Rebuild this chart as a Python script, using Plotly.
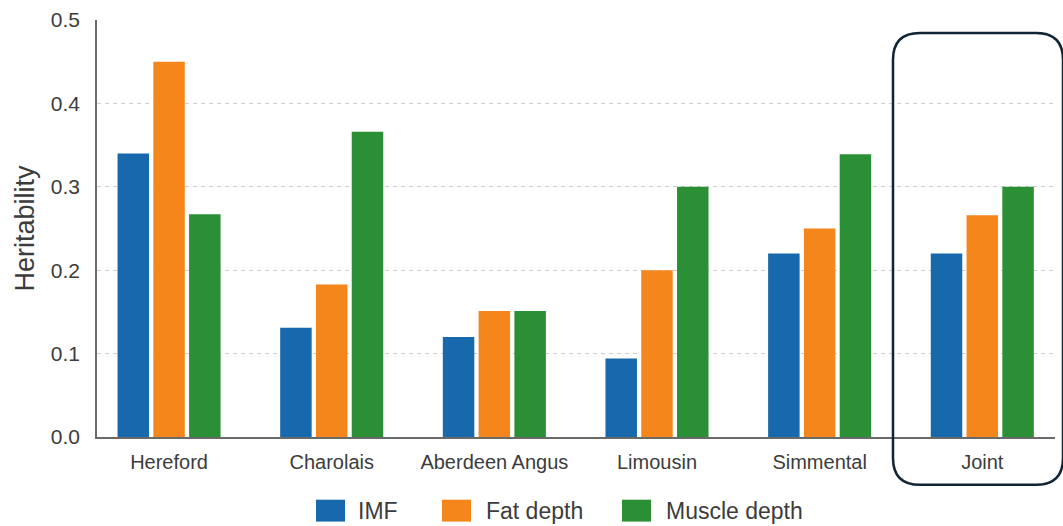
import plotly.graph_objects as go

# ---- data ----
categories = ["Hereford", "Charolais", "Aberdeen Angus", "Limousin", "Simmental", "Joint"]
series_names = ["IMF", "Fat depth", "Muscle depth"]
imf = [0.34, 0.131, 0.12, 0.094, 0.22, 0.22]
fat_depth = [0.45, 0.183, 0.151, 0.20, 0.25, 0.266]
muscle_depth = [0.267, 0.366, 0.151, 0.30, 0.339, 0.30]
y_ticks = [0.0, 0.1, 0.2, 0.3, 0.4, 0.5]
y_tick_labels = ["0.0", "0.1", "0.2", "0.3", "0.4", "0.5"]

colors = ["#1769ab", "#f5861c", "#2b8f35"]
values = [imf, fat_depth, muscle_depth]

W, H = 1063, 526
ML, MR, MT, MB = 97, 8, 18, 89
PW = W - ML - MR
PH = H - MT - MB

def px(x):
    return (x - ML) / PW

def py(y):
    return (H - MB - y) / PH

FONT = "Liberation Sans, Arial, sans-serif"
TXT = "#3c3c3c"

fig = go.Figure()
for name, vals, col in zip(series_names, values, colors):
    fig.add_trace(go.Bar(x=categories, y=vals, name=name, marker=dict(color=col, line=dict(width=0)),
                         showlegend=False))

fig.update_layout(
    width=W, height=H,
    margin=dict(l=ML, r=MR, t=MT, b=MB, pad=0),
    paper_bgcolor="white", plot_bgcolor="white",
    barmode="group", bargap=0.34, bargroupgap=0.12,
    font=dict(family=FONT, color=TXT, size=20),
)
fig.update_xaxes(
    range=[-0.443, 5.447], showgrid=False, showline=True, linecolor="#6a6a6a", linewidth=1.5,
    ticks="", tickfont=dict(size=20, color=TXT), ticklabelstandoff=6,
)
fig.update_yaxes(
    range=[0, 0.5], tickvals=y_ticks, ticktext=y_tick_labels,
    showgrid=True, gridcolor="#cfcfcf", gridwidth=1, griddash="4px,4px",
    showline=True, linecolor="#6a6a6a", linewidth=1.5, zeroline=False,
    ticks="", tickfont=dict(size=21, color=TXT), ticklabelstandoff=11,
    title=dict(text="Heritability", font=dict(size=27, color=TXT), standoff=8),
)

# rounded highlight box around "Joint"
x0, x1, y0, y1, r = 893, 1063, 31, 485, 27
rx = r / PW
ry = r / PH
X0, X1, Y0, Y1 = px(x0), px(x1), py(y1), py(y0)
path = (f"M{X0+rx},{Y1} L{X1-rx},{Y1} Q{X1},{Y1} {X1},{Y1-ry} "
        f"L{X1},{Y0+ry} Q{X1},{Y0} {X1-rx},{Y0} "
        f"L{X0+rx},{Y0} Q{X0},{Y0} {X0},{Y0+ry} "
        f"L{X0},{Y1-ry} Q{X0},{Y1} {X0+rx},{Y1} Z")
fig.add_shape(type="path", path=path, xref="paper", yref="paper",
              line=dict(color="#0f2536", width=2.5), fillcolor="rgba(0,0,0,0)")

# manual legend (large swatches)
sw_x = [316, 442, 622]
txt_x = [356, 484, 664]
sw_w, sw_top, sw_bot = 29, 500, 522
for name, col, sx, tx in zip(series_names, colors, sw_x, txt_x):
    fig.add_shape(type="rect", xref="paper", yref="paper",
                  x0=px(sx), x1=px(sx + sw_w), y0=py(sw_bot), y1=py(sw_top),
                  fillcolor=col, line=dict(width=0))
    fig.add_annotation(text=name, xref="paper", yref="paper", x=px(tx), y=py((sw_top + sw_bot) / 2),
                       xanchor="left", yanchor="middle", showarrow=False,
                       font=dict(size=23, color=TXT, family=FONT))

fig.write_html("out.html", config={"displayModeBar": False},
               post_script="document.body.style.margin='0px';document.body.style.overflow='hidden';")
